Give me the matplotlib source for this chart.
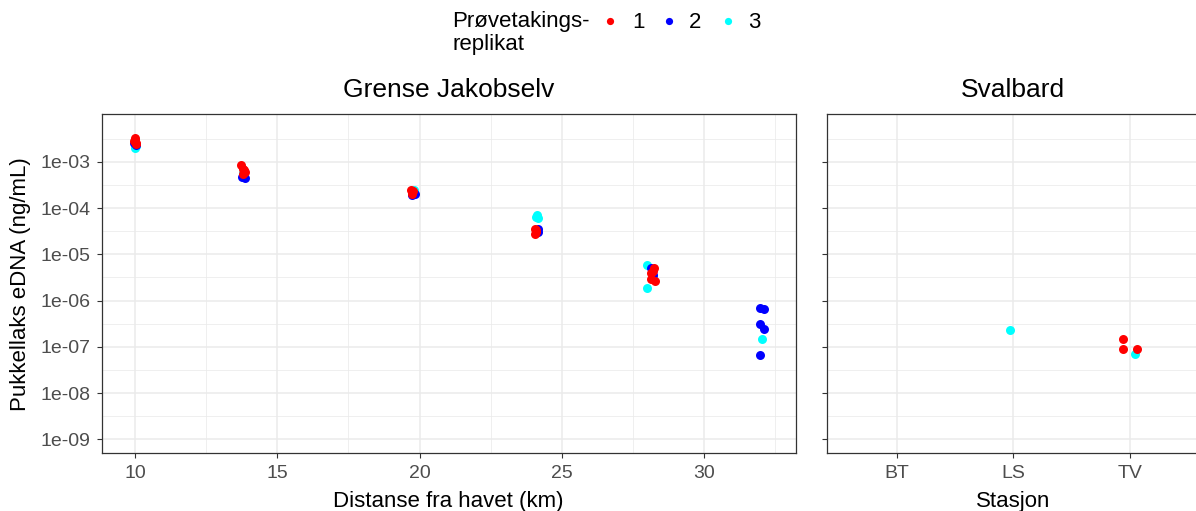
#!/usr/bin/env python
# -*- coding: utf-8 -*-
""" pink salmon eDNA along Grense Jakobselv and at the Svalbard stations
log scale scatter, coloured by sampling replicate
"""

import numpy as np
import matplotlib.pyplot as plt
from matplotlib.lines import Line2D
from matplotlib.ticker import FixedLocator, NullFormatter

plt.rcParams['font.family'] = ['Liberation Sans', 'DejaVu Sans']

# Grense Jakobselv, replicate 1
gj_dist_r1 = [10.00, 9.97, 10.04, 10.02, 10.00,
              13.72, 13.80, 13.85, 13.78, 13.83,
              19.70, 19.75, 19.72, 19.78,
              24.05, 24.08, 24.05, 24.10,
              28.25, 28.15, 28.12, 28.26, 28.20]
gj_conc_r1 = [3.3e-3, 2.9e-3, 2.6e-3, 2.4e-3, 3.0e-3,
              8.4e-4, 7.0e-4, 6.2e-4, 5.5e-4, 6.6e-4,
              2.5e-4, 2.2e-4, 2.0e-4, 2.4e-4,
              3.6e-5, 3.0e-5, 2.7e-5, 3.3e-5,
              5.0e-6, 4.0e-6, 2.9e-6, 2.6e-6, 4.4e-6]

# replicate 2
gj_dist_r2 = [9.98, 10.03,
              13.75, 13.86, 13.80,
              19.75, 19.85,
              24.15, 24.18,
              28.15, 28.20,
              31.97, 32.11, 31.97, 32.11, 31.97]
gj_conc_r2 = [2.6e-3, 2.3e-3,
              4.7e-4, 4.6e-4, 5.0e-4,
              1.9e-4, 2.0e-4,
              3.6e-5, 3.1e-5,
              5.0e-6, 3.5e-6,
              6.9e-7, 6.5e-7, 3.1e-7, 2.45e-7, 6.6e-8]

# replicate 3
gj_dist_r3 = [10.00, 10.05,
              13.80,
              19.82, 19.80,
              24.12, 24.15, 24.10,
              28.00, 28.00, 28.22,
              32.04]
gj_conc_r3 = [2.0e-3, 2.2e-3,
              5.8e-4,
              2.5e-4, 2.2e-4,
              7.0e-5, 6.0e-5, 6.5e-5,
              5.8e-6, 1.9e-6, 3.4e-6,
              1.48e-7]

# Svalbard stations
sv_stations = ['BT', 'LS', 'TV']
sv_station = ['LS', 'TV', 'TV', 'TV', 'TV']
sv_jitter = [-0.03, -0.06, -0.06, 0.06, 0.04]
sv_conc = [2.3e-7, 1.48e-7, 8.9e-8, 8.9e-8, 6.9e-8]
sv_rep = [3, 1, 1, 1, 3]

rep_labels = ['1', '2', '3']
rep_colors = {1: '#FF0000', 2: '#0000FF', 3: '#00FFFF'}

y_major = [1e-9, 1e-8, 1e-7, 1e-6, 1e-5, 1e-4, 1e-3]
y_labels = ['1e-09', '1e-08', '1e-07', '1e-06', '1e-05', '1e-04', '1e-03']
y_minor = [10 ** (e + 0.5) for e in range(-10, -1)]

W, H = 1196, 511
fig = plt.figure(figsize=(W / 100, H / 100), dpi=100)

bot, top = 453.3, 114.3
ax1 = fig.add_axes([101.7 / W, 1 - bot / H, (795.7 - 101.7) / W, (bot - top) / H])
ax2 = fig.add_axes([826.7 / W, 1 - bot / H, (1200 - 826.7) / W, (bot - top) / H])

ms = 42
for rep, xs, ys in [(3, gj_dist_r3, gj_conc_r3),
                    (2, gj_dist_r2, gj_conc_r2),
                    (1, gj_dist_r1, gj_conc_r1)]:
    ax1.scatter(xs, ys, s=ms, color=rep_colors[rep], lw=0, zorder=3)

sv_x = np.array([sv_stations.index(s) for s in sv_station]) + np.array(sv_jitter)
for rep in [3, 2, 1]:
    m = np.array(sv_rep) == rep
    ax2.scatter(sv_x[m], np.array(sv_conc)[m], s=ms, color=rep_colors[rep],
                lw=0, zorder=3)

for ax in (ax1, ax2):
    ax.set_yscale('log')
    ax.set_ylim(10 ** -9.305, 10 ** -1.968)
    ax.yaxis.set_major_locator(FixedLocator(y_major))
    ax.yaxis.set_minor_locator(FixedLocator(y_minor))
    ax.yaxis.set_minor_formatter(NullFormatter())
    ax.grid(which='major', color='#EBEBEB', lw=1.1, zorder=0)
    ax.grid(which='minor', color='#EBEBEB', lw=0.55, zorder=0)
    ax.set_axisbelow(True)
    for sp in ax.spines.values():
        sp.set_color('#333333')
        sp.set_linewidth(0.9)
    ax.tick_params(which='major', length=3.5, width=0.8, color='#333333',
                   labelcolor='#4D4D4D', labelsize=14)
    ax.tick_params(axis='x', pad=5)
    ax.tick_params(axis='y', pad=4.5)
    ax.tick_params(which='minor', length=0)

ax1.set_xlim(8.83, 33.22)
ax1.set_xticks([10, 15, 20, 25, 30])
ax1.set_xticks([12.5, 17.5, 22.5, 27.5, 32.5], minor=True)
ax1.set_yticklabels(y_labels)

ax2.set_xlim(-0.6, 2.6)
ax2.set_xticks(range(len(sv_stations)))
ax2.set_xticklabels(sv_stations)
ax2.tick_params(axis='y', labelleft=False)
ax2.grid(which='minor', axis='x', visible=False)

# strip titles
fig.text(448.7 / W, 1 - 96.7 / H, 'Grense Jakobselv', ha='center', va='baseline', fontsize=19)
fig.text(1013 / W, 1 - 96.7 / H, 'Svalbard', ha='center', va='baseline', fontsize=19)

# axis titles
fig.text(448.7 / W, 1 - 506.7 / H, 'Distanse fra havet (km)', ha='center', va='baseline', fontsize=16)
fig.text(1013 / W, 1 - 506.7 / H, 'Stasjon', ha='center', va='baseline', fontsize=16)
fig.text(21 / W, 1 - 283.8 / H, 'Pukkellaks eDNA (ng/mL)', ha='center', va='center',
         rotation=90, fontsize=16)

# legend
fig.text(452 / W, 1 - 27.3 / H, 'Prøvetakings-', ha='left', va='baseline', fontsize=16)
fig.text(452 / W, 1 - 50 / H, 'replikat', ha='left', va='baseline', fontsize=16)
key_x = [610, 669.3, 728.3]
lab_x = [639, 695, 754]
for rep, kx, lx, lab in zip([1, 2, 3], key_x, lab_x, rep_labels):
    fig.add_artist(Line2D([kx / W], [1 - 20.7 / H], marker='o', ls='none',
                          markersize=5.2, markeredgewidth=0,
                          color=rep_colors[rep], transform=fig.transFigure))
    fig.text(lx / W, 1 - 28.3 / H, lab, ha='center', va='baseline', fontsize=16)

fig.savefig('out.png', dpi=100)
